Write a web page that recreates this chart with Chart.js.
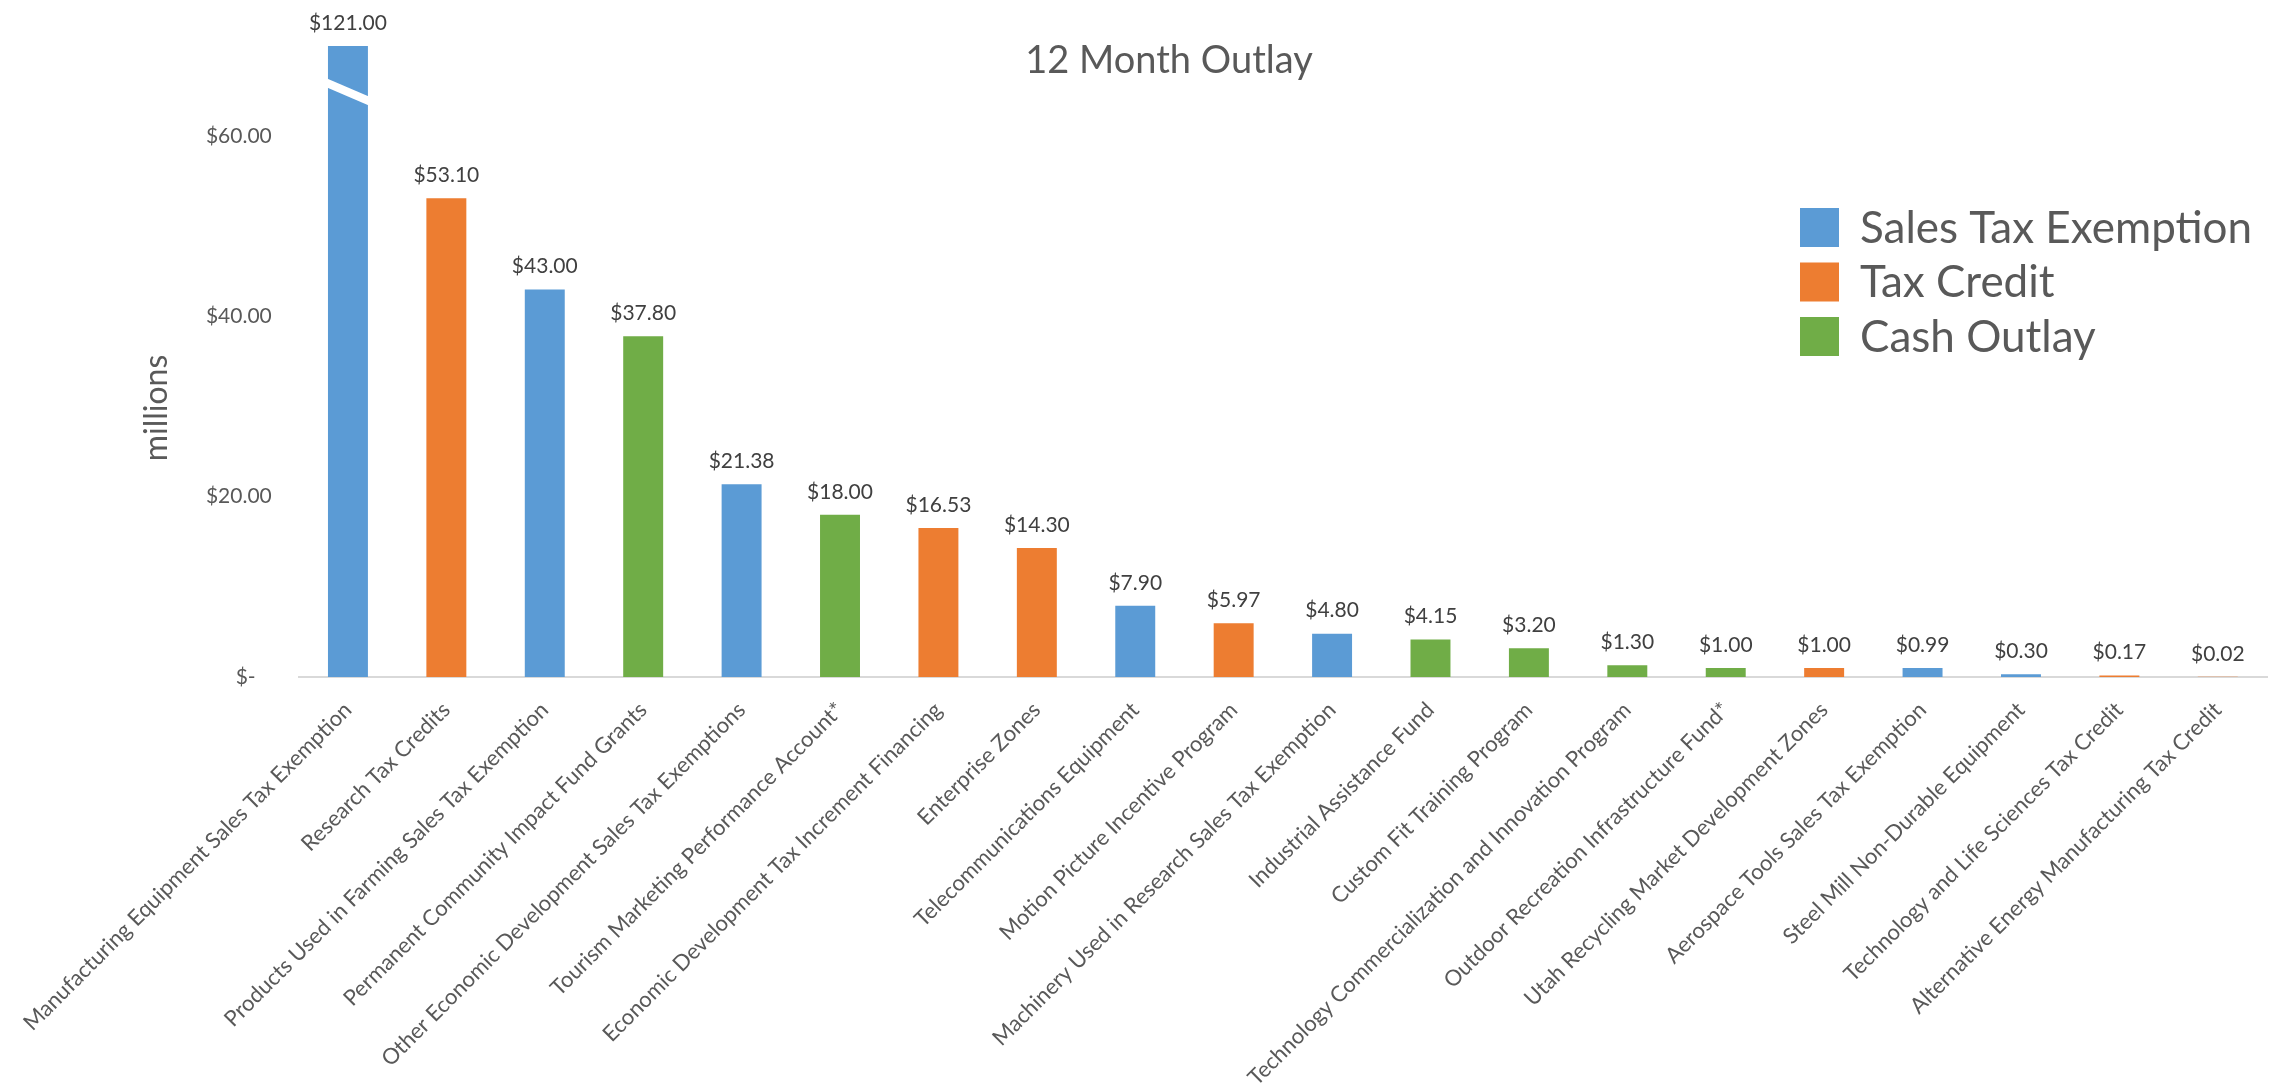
<!DOCTYPE html>
<html>
<head>
<meta charset="utf-8">
<script src="https://cdn.jsdelivr.net/npm/chart.js@4.4.1/dist/chart.umd.min.js"></script>
<style>
html,body{margin:0;padding:0;background:#ffffff;}
#wrap{width:2271px;height:1090px;position:relative;}
</style>
</head>
<body>
<div id="wrap"><canvas id="c" width="2271" height="1090"></canvas></div>
<script>
const chartTitle = '12 Month Outlay';
const yAxisTitle = 'millions';
const categories = [
  'Manufacturing Equipment Sales Tax Exemption',
  'Research Tax Credits',
  'Products Used in Farming Sales Tax Exemption',
  'Permanent Community Impact Fund Grants',
  'Other Economic Development Sales Tax Exemptions',
  'Tourism Marketing Performance Account*',
  'Economic Development Tax Increment Financing',
  'Enterprise Zones',
  'Telecommunications Equipment',
  'Motion Picture Incentive Program',
  'Machinery Used in Research Sales Tax Exemption',
  'Industrial Assistance Fund',
  'Custom Fit Training Program',
  'Technology Commercialization and Innovation Program',
  'Outdoor Recreation Infrastructure Fund*',
  'Utah Recycling Market Development Zones',
  'Aerospace Tools Sales Tax Exemption',
  'Steel Mill Non-Durable Equipment',
  'Technology and Life Sciences Tax Credit',
  'Alternative Energy Manufacturing Tax Credit'
];
const seriesNames = ['Sales Tax Exemption', 'Tax Credit', 'Cash Outlay'];
const seriesColors = ['#5B9BD5', '#ED7D31', '#70AD47'];
const salesTaxExemption = [121.00, null, 43.00, null, 21.38, null, null, null, 7.90, null, 4.80, null, null, null, null, null, 0.99, 0.30, null, null];
const taxCredit        = [null, 53.10, null, null, null, null, 16.53, 14.30, null, 5.97, null, null, null, null, null, 1.00, null, null, 0.17, 0.02];
const cashOutlay       = [null, null, null, 37.80, null, 18.00, null, null, null, null, null, 4.15, 3.20, 1.30, 1.00, null, null, null, null, null];
const yMin = 0;
const yMax = 70;
const yStep = 20;

const seriesData = [salesTaxExemption, taxCredit, cashOutlay];
const TEXT = '#595959';
const LABEL = '#404040';
const FONT = 'Lato, "Open Sans", sans-serif';

function money(v) { return '$' + v.toFixed(2); }

const overlay = {
  id: 'overlay',
  afterDatasetsDraw(chart) {
    const ctx = chart.ctx, ys = chart.scales.y;
    ctx.save();
    chart.data.datasets.forEach((ds, di) => {
      const meta = chart.getDatasetMeta(di);
      meta.data.forEach((bar, i) => {
        const v = ds.data[i];
        if (v == null || v <= yMax) return;
        // axis-break marker on a bar that runs past the axis maximum
        const l = bar.x - bar.width / 2 - 1, r = bar.x + bar.width / 2 + 1;
        ctx.fillStyle = '#ffffff';
        ctx.beginPath();
        ctx.moveTo(l, ys.getPixelForValue(yMax - 3.6));
        ctx.lineTo(r, ys.getPixelForValue(yMax - 5.6));
        ctx.lineTo(r, ys.getPixelForValue(yMax - 6.6));
        ctx.lineTo(l, ys.getPixelForValue(yMax - 4.6));
        ctx.closePath();
        ctx.fill();
      });
    });
    ctx.restore();
  },
  afterDraw(chart) {
    const ctx = chart.ctx, area = chart.chartArea;
    ctx.save();
    // data labels
    ctx.font = '21px ' + FONT;
    ctx.fillStyle = LABEL;
    ctx.textAlign = 'center';
    ctx.textBaseline = 'middle';
    chart.data.datasets.forEach((ds, di) => {
      const meta = chart.getDatasetMeta(di);
      meta.data.forEach((bar, i) => {
        const v = ds.data[i];
        if (v == null) return;
        const top = Math.max(bar.y, area.top);
        ctx.fillText(money(v), bar.x, top - 23);
      });
    });
    // title
    ctx.font = '38px ' + FONT;
    ctx.fillStyle = TEXT;
    ctx.fillText(chartTitle, 1169, 61);
    // y-axis title
    ctx.save();
    ctx.translate(157, 408);
    ctx.rotate(-Math.PI / 2);
    ctx.font = '32px ' + FONT;
    ctx.fillText(yAxisTitle, 0, 0);
    ctx.restore();
    // legend
    ctx.textAlign = 'left';
    ctx.font = '44px ' + FONT;
    chart.data.datasets.forEach((ds, di) => {
      const cy = 227.5 + di * 54.5;
      ctx.fillStyle = ds.backgroundColor;
      ctx.fillRect(1800, cy - 19.5, 39, 39);
      ctx.fillStyle = TEXT;
      ctx.fillText(ds.label, 1860, cy + 1);
    });
    ctx.restore();
  }
};

function build() {
  new Chart(document.getElementById('c'), {
    type: 'bar',
    data: {
      labels: categories,
      datasets: seriesNames.map((name, k) => ({
        label: name,
        data: seriesData[k],
        backgroundColor: seriesColors[k],
        borderWidth: 0,
        categoryPercentage: 1.0,
        barPercentage: 0.406
      }))
    },
    options: {
      responsive: false,
      animation: false,
      devicePixelRatio: 1,
      layout: { padding: { top: 46, left: 135, right: 4, bottom: 0 } },
      plugins: {
        legend: { display: false },
        title: { display: false },
        tooltip: { enabled: false }
      },
      scales: {
        x: {
          stacked: true,
          grid: { display: false, drawTicks: false },
          border: { display: true, color: '#D9D9D9', width: 2 },
          ticks: {
            autoSkip: false,
            maxRotation: 45,
            minRotation: 45,
            padding: 20,
            color: TEXT,
            font: { family: FONT, size: 22 }
          },
          afterFit: s => { s.height = 413; }
        },
        y: {
          stacked: true,
          min: yMin,
          max: yMax,
          grid: { display: false, drawTicks: false },
          border: { display: false },
          ticks: {
            stepSize: yStep,
            includeBounds: false,
            padding: 27,
            color: TEXT,
            font: { family: FONT, size: 21 },
            callback: v => (v === 0 ? '$-   ' : money(v))
          },
          afterFit: s => { s.width = 162; }
        }
      }
    },
    plugins: [overlay]
  });
}

if (document.fonts && document.fonts.load) {
  Promise.all([
    document.fonts.load('21px Lato'),
    document.fonts.load('44px Lato')
  ]).then(build, build);
} else {
  build();
}
</script>
</body>
</html>
